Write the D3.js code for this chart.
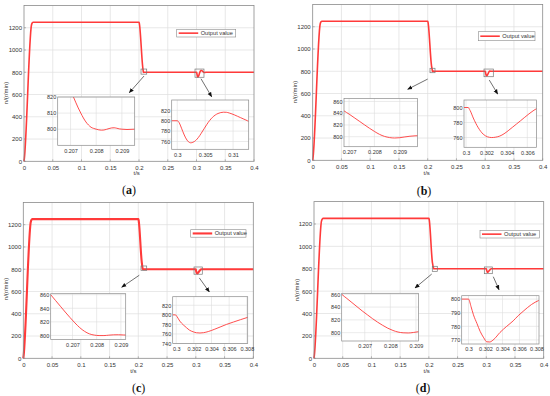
<!DOCTYPE html>
<html>
<head>
<meta charset="utf-8">
<script src="https://cdn.jsdelivr.net/npm/d3@7"></script>
<style>
body { margin: 0; background: #fff; }
svg { display: block; }
</style>
</head>
<body>
<svg id="fig" width="550" height="396"></svg>
<script>

// ---- data (t in s, n in r/min) ----
var riseData = [[0, 0], [0.0005, 20], [0.013, 1225], [0.0145, 1245], [0.016, 1250], [0.2, 1250], [0.2005, 1242]];
var tailData = [[0.4, 800]];

var xTicksMain = [0, 0.05, 0.1, 0.15, 0.2, 0.25, 0.3, 0.35, 0.4];
var yTicksMain = [0, 200, 400, 600, 800, 1000, 1200];

// (a)
var dropA = [[0.2060, 872]];
var zoom1A = [[0.2065, 845], [0.2067, 836], [0.2069, 828], [0.2071, 820.5], [0.2072, 816.8], [0.2073, 813.2],
  [0.2074, 810], [0.2075, 807], [0.2076, 804.5], [0.2077, 802.6], [0.2078, 801.2], [0.2079, 800.5], [0.2080, 800],
  [0.2081, 799.6], [0.2082, 799.4], [0.2083, 799.5], [0.2084, 799.9], [0.2085, 800.4], [0.2086, 800.8],
  [0.2087, 800.9], [0.2088, 800.6], [0.2089, 800.2], [0.2090, 800], [0.2092, 799.8], [0.2095, 800]];
var zoom2A = [[0.2990, 800], [0.3000, 800], [0.3003, 797], [0.3006, 790], [0.3010, 779], [0.3015, 767],
  [0.3020, 759.5], [0.3024, 757.5], [0.3028, 758.5], [0.3033, 762], [0.3038, 768], [0.3043, 776], [0.3048, 784.5],
  [0.3053, 793], [0.3058, 800.5], [0.3063, 806.5], [0.3068, 811], [0.3073, 814], [0.3078, 815.8], [0.3083, 816.5],
  [0.3088, 816.3], [0.3093, 815], [0.3098, 813.2], [0.3103, 811], [0.3108, 808.6], [0.3113, 806.2],
  [0.3118, 803.8], [0.3123, 801.4], [0.3128, 799], [0.3140, 797.5], [0.3160, 799.5], [0.3180, 800]];

// (b)
var dropB = [[0.2061, 874]];
var zoom1B = [[0.2066, 851], [0.2068, 844], [0.2070, 838.5], [0.2072, 832.5], [0.2074, 826.5], [0.2076, 820.5],
  [0.2078, 814.5], [0.2080, 809], [0.2082, 804], [0.2084, 800.5], [0.2086, 798.5], [0.2088, 797.8],
  [0.2090, 798.3], [0.2092, 799.6], [0.2094, 800.8], [0.2096, 801.5], [0.2098, 801.8], [0.2100, 801.5],
  [0.2103, 800.5], [0.2107, 800]];
var zoom2B = [[0.2998, 800], [0.3002, 800], [0.3004, 796], [0.30071, 786], [0.3012, 773], [0.30168, 764.5],
  [0.3021, 761], [0.3025, 760], [0.3029, 760.5], [0.30331, 762], [0.30372, 765], [0.30412, 769], [0.30453, 773.5],
  [0.30494, 778], [0.30535, 782.5], [0.30575, 787], [0.30616, 791.5], [0.30656, 795.5], [0.30695, 798.8],
  [0.3075, 801], [0.3085, 801], [0.3095, 800]];

// (c)
var dropC = [[0.2058, 874]];
var zoom1C = [[0.2061, 860], [0.2063, 851.5], [0.2065, 843], [0.2067, 834.5], [0.2069, 826.3], [0.2071, 818.5],
  [0.2073, 811.5], [0.2075, 806], [0.2077, 802.3], [0.2079, 800.5], [0.2081, 799.8], [0.2083, 799.8],
  [0.2085, 800.4], [0.2087, 800.9], [0.2089, 801], [0.2091, 800.7], [0.2093, 800.4], [0.2095, 800.2]];
var zoom2C = [[0.2996, 800], [0.2999, 800], [0.3001, 796], [0.3004, 787], [0.3008, 779], [0.30117, 773],
  [0.3015, 768], [0.30192, 764.5], [0.3023, 762.5], [0.30269, 762], [0.3031, 762.7], [0.30363, 765],
  [0.3043, 769.5], [0.30497, 774.5], [0.3057, 780], [0.30649, 785], [0.3073, 790], [0.30814, 795],
  [0.3090, 799], [0.3095, 800]];

// (d)
var dropD = [[0.2058, 874]];
var zoom1D = [[0.2061, 860], [0.2063, 853.5], [0.2065, 847], [0.2067, 840.5], [0.2069, 834], [0.2071, 828],
  [0.2073, 822], [0.2075, 816.5], [0.2077, 811.5], [0.2079, 807], [0.2081, 803.5], [0.2083, 801], [0.2085, 799.8],
  [0.2087, 799.5], [0.2089, 800.3], [0.2091, 801.5], [0.2094, 802], [0.2098, 801], [0.2103, 800]];
var zoom2D = [[0.2992, 800], [0.3000, 800], [0.3003, 794.5], [0.30058, 788.5], [0.3010, 782], [0.30137, 776.3],
  [0.3018, 771.5], [0.30215, 768.6], [0.3025, 768.5], [0.3030, 770.5], [0.30371, 775.5], [0.3045, 780],
  [0.30526, 784], [0.30585, 787.8], [0.30643, 791], [0.30741, 796], [0.30827, 799], [0.3090, 800.5], [0.3100, 800]];

var zoom1Ticks = [0.207, 0.208, 0.209];
var zoom2TicksA = [0.3, 0.305, 0.31];
var zoom2TicksB = [0.3, 0.302, 0.304, 0.306];
var zoom2TicksCD = [0.3, 0.302, 0.304, 0.306, 0.308];

var legendLabel = "Output value";

// ---- layout ----
var panels = [
  { letter: 'a', ox: 0, oy: 0, box: [24, 5.5, 230, 155.8], drop: dropA, z1: zoom1A, z2: zoom2A, lw: 1.6,
    legend: [176.7, 29.3, 59, 7.7], ylab: [6, 93], xlab: [136.7, 172.7], title: [129, 194],
    rect1: [0.2035, 0.2134, 783, 829], rect2: [0.2974, 0.3130, 755, 829],
    arrow1: [0.2087, 766, 0.1831, 616], arrow2: [0.3078, 742, 0.3264, 580],
    insets: [
      { box: [57.7, 97, 77, 48.3], xd: [0.2065, 0.2095], xt: zoom1Ticks, yd: [790, 820], yt: [800, 810, 820] },
      { box: [171.7, 100, 77, 49.3], xd: [0.299, 0.3128], xt: zoom2TicksA, yd: [745, 840], yt: [760, 780, 800, 820] }
    ] },
  { letter: 'b', ox: 275, oy: 0, box: [37.7, 4.5, 230, 155.8], drop: dropB, z1: zoom1B, z2: zoom2B, lw: 1.6,
    legend: [203.3, 31.7, 56.7, 9], ylab: [20, 92], xlab: [151.7, 173.3], title: [149, 195],
    rect1: [0.2040, 0.2127, 787, 827], rect2: [0.2979, 0.3141, 751, 820],
    arrow1: [0.2000, 730, 0.1652, 638], arrow2: [0.3071, 721, 0.3217, 596],
    insets: [
      { box: [69, 98.5, 73.5, 48.2], xd: [0.2068, 0.2097], xt: zoom1Ticks, yd: [783, 865], yt: [800, 820, 840, 860] },
      { box: [189, 100, 72.5, 47.3], xd: [0.2998, 0.3069], xt: zoom2TicksB, yd: [747, 810], yt: [760, 780, 800] }
    ] },
  { letter: 'c', ox: 0, oy: 198, box: [23.3, 4.4, 230, 155.9], drop: dropC, z1: zoom1C, z2: zoom2C, lw: 2.1,
    legend: [190.7, 31.7, 55.3, 7.5], ylab: [6, 91], xlab: [133.3, 173.3], title: [138.7, 193.5],
    rect1: [0.2047, 0.2146, 790, 829], rect2: [0.2969, 0.3113, 755, 820],
    arrow1: [0.2017, 746, 0.1711, 638], arrow2: [0.3061, 722, 0.3235, 596],
    insets: [
      { box: [50.7, 95.7, 75, 45.8], xd: [0.2061, 0.2092], xt: zoom1Ticks, yd: [794, 861.5], yt: [800, 820, 840, 860] },
      { box: [172.7, 98.7, 75, 46.8], xd: [0.2996, 0.3081], xt: zoom2TicksCD, yd: [740, 838], yt: [740, 760, 780, 800, 820] }
    ] },
  { letter: 'd', ox: 275, oy: 198, box: [39, 3.6, 229.7, 156.7], drop: dropD, z1: zoom1D, z2: zoom2D, lw: 1.6,
    legend: [205, 32.3, 59.3, 7.7], ylab: [21.7, 92], xlab: [151.7, 173.3], title: [148, 194],
    rect1: [0.2060, 0.2147, 777, 822], rect2: [0.2966, 0.3105, 756, 816],
    arrow1: [0.2050, 753, 0.1759, 628], arrow2: [0.3122, 729, 0.3222, 613],
    insets: [
      { box: [66.7, 95.3, 76.8, 47.7], xd: [0.2061, 0.2091], xt: zoom1Ticks, yd: [787, 861.5], yt: [800, 820, 840, 860] },
      { box: [186.7, 97.7, 77.3, 48.3], xd: [0.2992, 0.3083], xt: zoom2TicksCD, yd: [767, 802.5], yt: [770, 780, 790, 800] }
    ] }
];

var RED = "#ff3a3a", GRID = "#dedede", AXC = "#8a8a8a", TXT = "#333";
var FONT = "'Liberation Sans', Arial, sans-serif";

var svg = d3.select("#fig");
svg.append("rect").attr("width", 550).attr("height", 396).attr("fill", "#fff");

var defs = svg.append("defs");
defs.append("marker").attr("id", "arr").attr("viewBox", "0 0 10 10")
  .attr("refX", 9).attr("refY", 5).attr("markerWidth", 5).attr("markerHeight", 5)
  .attr("markerUnits", "userSpaceOnUse").attr("orient", "auto")
  .append("path").attr("d", "M0,1 L10,5 L0,9 Z").attr("fill", "#111");

var clipId = 0;

function drawPanel(p) {
  var g = svg.append("g").attr("transform", "translate(" + p.ox + "," + p.oy + ")");
  var b = p.box;
  var x = d3.scaleLinear().domain([0, 0.4]).range([b[0], b[0] + b[2]]);
  var y = d3.scaleLinear().domain([0, 1400]).range([b[1] + b[3], b[1]]);
  var series = riseData.concat(p.drop, p.z1, p.z2, tailData);

  // grid
  g.append("g").selectAll("line").data(xTicksMain.slice(1, -1)).join("line")
    .attr("x1", d => x(d)).attr("x2", d => x(d)).attr("y1", b[1]).attr("y2", b[1] + b[3])
    .attr("stroke", GRID).attr("stroke-width", 0.7);
  g.append("g").selectAll("line").data(yTicksMain.slice(1)).join("line")
    .attr("y1", d => y(d)).attr("y2", d => y(d)).attr("x1", b[0]).attr("x2", b[0] + b[2])
    .attr("stroke", GRID).attr("stroke-width", 0.7);

  // axes
  var xAxis = d3.axisBottom(x).tickValues(xTicksMain).tickSize(0).tickPadding(4).tickFormat(d => String(d));
  var yAxis = d3.axisLeft(y).tickValues(yTicksMain).tickSize(0).tickPadding(2).tickFormat(d => String(d));
  var ax = g.append("g").attr("transform", "translate(0," + (b[1] + b[3]) + ")").call(xAxis);
  var ay = g.append("g").attr("transform", "translate(" + b[0] + ",0)").call(yAxis);
  [ax, ay].forEach(function (a) {
    a.select(".domain").remove();
    a.selectAll("text").attr("font-family", FONT).attr("font-size", 6).attr("fill", TXT);
  });
  // inner ticks
  g.append("g").selectAll("line").data(xTicksMain).join("line")
    .attr("x1", d => x(d)).attr("x2", d => x(d)).attr("y1", b[1] + b[3]).attr("y2", b[1] + b[3] - 2)
    .attr("stroke", AXC).attr("stroke-width", 0.6);
  g.append("g").selectAll("line").data(yTicksMain).join("line")
    .attr("y1", d => y(d)).attr("y2", d => y(d)).attr("x1", b[0]).attr("x2", b[0] + 2)
    .attr("stroke", AXC).attr("stroke-width", 0.6);

  // series
  var line = d3.line().x(d => x(d[0])).y(d => y(d[1])).curve(d3.curveMonotoneX);
  g.append("path").datum(series).attr("d", line).attr("fill", "none")
    .attr("stroke", RED).attr("stroke-width", p.lw).attr("stroke-linejoin", "round");

  g.append("rect").attr("x", b[0]).attr("y", b[1]).attr("width", b[2]).attr("height", b[3])
    .attr("fill", "none").attr("stroke", AXC).attr("stroke-width", 0.8);

  // axis labels
  g.append("text").attr("transform", "translate(" + p.ylab[0] + "," + p.ylab[1] + ") rotate(-90)")
    .attr("text-anchor", "middle").attr("dy", "0.35em").attr("font-family", FONT).attr("font-size", 6)
    .attr("fill", TXT).text("n/(r/min)");
  g.append("text").attr("x", p.xlab[0]).attr("y", p.xlab[1]).attr("dy", "0.35em")
    .attr("text-anchor", "middle").attr("font-family", FONT).attr("font-size", 6)
    .attr("fill", TXT).text("t/s");

  // legend
  var L = p.legend;
  g.append("rect").attr("x", L[0]).attr("y", L[1]).attr("width", L[2]).attr("height", L[3])
    .attr("fill", "#fff").attr("stroke", AXC).attr("stroke-width", 0.6);
  g.append("line").attr("x1", L[0] + 2).attr("x2", L[0] + 21.5)
    .attr("y1", L[1] + L[3] / 2).attr("y2", L[1] + L[3] / 2)
    .attr("stroke", RED).attr("stroke-width", p.lw);
  g.append("text").attr("x", L[0] + 24).attr("y", L[1] + L[3] / 2).attr("dy", "0.35em")
    .attr("font-family", FONT).attr("font-size", 5.7).attr("fill", TXT).text(legendLabel);

  // zoom markers
  [p.rect1, p.rect2].forEach(function (r) {
    g.append("rect").attr("x", x(r[0])).attr("y", y(r[3]))
      .attr("width", x(r[1]) - x(r[0])).attr("height", y(r[2]) - y(r[3]))
      .attr("fill", "none").attr("stroke", "#777").attr("stroke-width", 0.7);
  });

  // insets
  p.insets.forEach(function (ins) {
    var ib = ins.box;
    var ix = d3.scaleLinear().domain(ins.xd).range([ib[0], ib[0] + ib[2]]);
    var iy = d3.scaleLinear().domain(ins.yd).range([ib[1] + ib[3], ib[1]]);
    var ig = g.append("g");
    ig.append("rect").attr("x", ib[0]).attr("y", ib[1]).attr("width", ib[2]).attr("height", ib[3]).attr("fill", "#fff");
    ig.append("g").selectAll("line").data(ins.xt).join("line")
      .attr("x1", d => ix(d)).attr("x2", d => ix(d)).attr("y1", ib[1]).attr("y2", ib[1] + ib[3])
      .attr("stroke", GRID).attr("stroke-width", 0.6);
    ig.append("g").selectAll("line").data(ins.yt).join("line")
      .attr("y1", d => iy(d)).attr("y2", d => iy(d)).attr("x1", ib[0]).attr("x2", ib[0] + ib[2])
      .attr("stroke", GRID).attr("stroke-width", 0.6);

    var id = "clip" + (clipId++);
    defs.append("clipPath").attr("id", id).append("rect")
      .attr("x", ib[0]).attr("y", ib[1]).attr("width", ib[2]).attr("height", ib[3]);
    var iline = d3.line().x(d => ix(d[0])).y(d => iy(d[1])).curve(d3.curveMonotoneX);
    ig.append("path").datum(series).attr("d", iline).attr("clip-path", "url(#" + id + ")")
      .attr("fill", "none").attr("stroke", RED).attr("stroke-width", 0.9);

    ig.append("rect").attr("x", ib[0]).attr("y", ib[1]).attr("width", ib[2]).attr("height", ib[3])
      .attr("fill", "none").attr("stroke", AXC).attr("stroke-width", 0.7);

    var iax = ig.append("g").attr("transform", "translate(0," + (ib[1] + ib[3]) + ")")
      .call(d3.axisBottom(ix).tickValues(ins.xt).tickSize(0).tickPadding(3.5).tickFormat(d => String(d)));
    var iay = ig.append("g").attr("transform", "translate(" + ib[0] + ",0)")
      .call(d3.axisLeft(iy).tickValues(ins.yt).tickSize(0).tickPadding(1.5).tickFormat(d => String(d)));
    [iax, iay].forEach(function (a) {
      a.select(".domain").remove();
      a.selectAll("text").attr("font-family", FONT).attr("font-size", 5.5).attr("fill", TXT);
    });
  });

  // arrows
  [p.arrow1, p.arrow2].forEach(function (a) {
    g.append("line").attr("x1", x(a[0])).attr("y1", y(a[1])).attr("x2", x(a[2])).attr("y2", y(a[3]))
      .attr("stroke", "#333").attr("stroke-width", 0.7).attr("marker-end", "url(#arr)");
  });

  // panel caption
  var t = g.append("text").attr("x", p.title[0]).attr("y", p.title[1]).attr("text-anchor", "middle")
    .attr("font-family", "'Liberation Serif', 'Times New Roman', serif").attr("font-size", 12).attr("fill", "#111");
  t.append("tspan").text("(");
  t.append("tspan").attr("font-weight", "bold").text(p.letter);
  t.append("tspan").text(")");
}

panels.forEach(drawPanel);

</script>
</body>
</html>
